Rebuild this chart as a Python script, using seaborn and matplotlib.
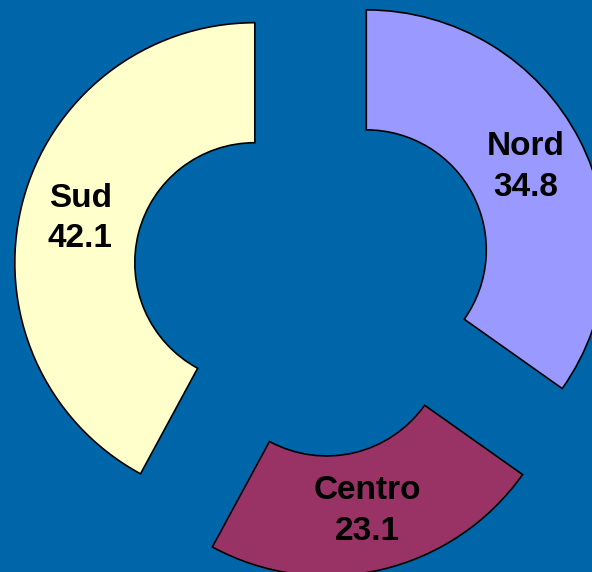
import matplotlib
matplotlib.use('Agg')
import matplotlib.pyplot as plt
import seaborn as sns

# Dati della ciambella
aree = ['Nord', 'Centro', 'Sud']
valori = [34.8, 23.1, 42.1]
colori = ['#9999FF', '#993366', '#FFFFCC']

sns.set_style('white')
plt.rcParams['font.family'] = ['Liberation Sans', 'DejaVu Sans']

sfondo = '#0066AA'
fig = plt.figure(figsize=(5.92, 5.72), dpi=100, facecolor=sfondo)
ax = fig.add_axes([0, 0, 1, 1])
ax.set_facecolor(sfondo)

etichette = [f'{a}\n{v}' for a, v in zip(aree, valori)]
wedges, testi = ax.pie(
    valori,
    labels=etichette,
    colors=colori,
    startangle=90,
    counterclock=False,
    explode=[0.25] * len(valori),
    labeldistance=0.75,
    radius=1,
    wedgeprops=dict(width=0.5, edgecolor='black', linewidth=1.2),
    textprops=dict(fontsize=24, fontweight='bold', color='black'),
)
for t in testi:
    t.set_horizontalalignment('center')
    t.set_verticalalignment('center')
    t.set_multialignment('center')
    t.set_linespacing(1.4)

ax.set_xlim(-1.304, 1.1625)
ax.set_ylim(-1.227, 1.156)
ax.set_aspect('auto')
ax.axis('off')

fig.savefig('out.png', dpi=100, facecolor=sfondo)
